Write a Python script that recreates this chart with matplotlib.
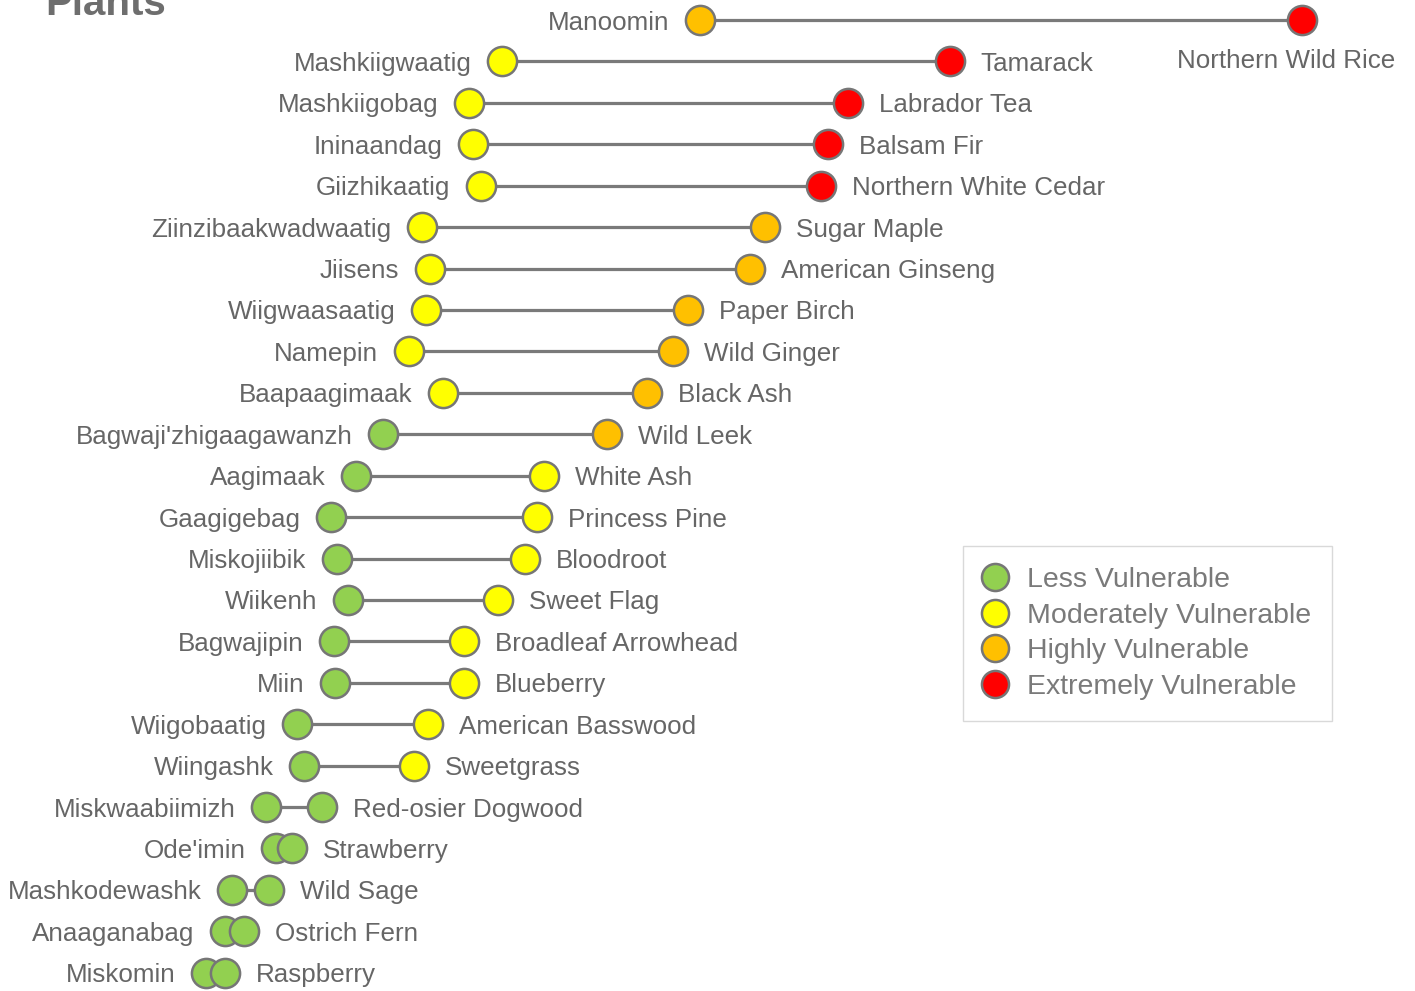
import numpy as np
import matplotlib.pyplot as plt
from matplotlib.lines import Line2D

plt.rcParams['font.family'] = ['Liberation Sans', 'DejaVu Sans']

# plant names, top row first
ojibwe = ["Manoomin", "Mashkiigwaatig", "Mashkiigobag", "Ininaandag", "Giizhikaatig",
          "Ziinzibaakwadwaatig", "Jiisens", "Wiigwaasaatig", "Namepin", "Baapaagimaak",
          "Bagwaji'zhigaagawanzh", "Aagimaak", "Gaagigebag", "Miskojiibik", "Wiikenh",
          "Bagwajipin", "Miin", "Wiigobaatig", "Wiingashk", "Miskwaabiimizh",
          "Ode'imin", "Mashkodewashk", "Anaaganabag", "Miskomin"]
english = ["Northern Wild Rice", "Tamarack", "Labrador Tea", "Balsam Fir", "Northern White Cedar",
           "Sugar Maple", "American Ginseng", "Paper Birch", "Wild Ginger", "Black Ash",
           "Wild Leek", "White Ash", "Princess Pine", "Bloodroot", "Sweet Flag",
           "Broadleaf Arrowhead", "Blueberry", "American Basswood", "Sweetgrass", "Red-osier Dogwood",
           "Strawberry", "Wild Sage", "Ostrich Fern", "Raspberry"]

# scores for the two ends of each dumbbell
left_score = [70.0, 50.2, 46.9, 47.3, 48.1, 42.2, 43.0, 42.6, 40.9, 44.3,
              38.3, 35.6, 33.1, 33.7, 34.8, 33.4, 33.5, 29.7, 30.4, 26.6,
              27.6, 23.2, 22.5, 20.6]
right_score = [130.2, 95.0, 84.8, 82.8, 82.1, 76.5, 75.0, 68.8, 67.3, 64.7,
               60.7, 54.4, 53.7, 52.5, 49.8, 46.4, 46.4, 42.8, 41.4, 32.2,
               29.2, 26.9, 24.4, 22.5]

# vulnerability level of each end (0 = less ... 3 = extremely)
left_level = [2, 1, 1, 1, 1, 1, 1, 1, 1, 1, 0, 0, 0, 0, 0, 0, 0, 0, 0, 0, 0, 0, 0, 0]
right_level = [3, 3, 3, 3, 3, 2, 2, 2, 2, 2, 2, 1, 1, 1, 1, 1, 1, 1, 1, 0, 0, 0, 0, 0]

levels = ["Less Vulnerable", "Moderately Vulnerable", "Highly Vulnerable", "Extremely Vulnerable"]
level_colors = ["#92D050", "#FFFF00", "#FFC000", "#FF0000"]

edge = "#767676"
txt = "#666666"

fig = plt.figure(figsize=(14.15, 9.91), dpi=100)
ax = fig.add_axes([0, 0, 1, 1])
ax.set_xlim(0, 141.5)
ax.set_ylim(23.44, -0.483)
ax.axis('off')

rows = np.arange(len(ojibwe))
for i in rows:
    l, r = left_score[i], right_score[i]
    ax.plot([l, r], [i, i], color="#7a7a7a", lw=2.3, zorder=1)
    ax.plot(l, i, 'o', ms=21, mfc=level_colors[left_level[i]], mec=edge, mew=1.8, zorder=2)
    ax.plot(r, i, 'o', ms=21, mfc=level_colors[right_level[i]], mec=edge, mew=1.8, zorder=3)
    ax.annotate(ojibwe[i], (l, i), xytext=(-22, 0), textcoords='offset points',
                ha='right', va='center_baseline', fontsize=18.7, color=txt)
    if english[i] == "Northern Wild Rice":
        ax.annotate(english[i], (r, i), xytext=(-11.5, -27.5), textcoords='offset points',
                    ha='center', va='center_baseline', fontsize=18.7, color=txt)
    else:
        ax.annotate(english[i], (r, i), xytext=(22, 0), textcoords='offset points',
                    ha='left', va='center_baseline', fontsize=18.7, color=txt)

fig.text(45 / 1415, 1 - 15 / 991, "Plants", fontsize=29, fontweight='bold',
         color="#6e6e6e", ha='left', va='baseline')

handles = [Line2D([], [], ls='none', marker='o', ms=19.5, mfc=c, mec=edge, mew=1.8)
           for c in level_colors]
leg = fig.legend(handles, levels, loc='upper left',
                 bbox_to_anchor=(963 / 1415, 1 - 546 / 991),
                 fontsize=20.5, frameon=True, fancybox=False, borderpad=0.75,
                 handlelength=0.74, handletextpad=0.75, labelspacing=0.33,
                 borderaxespad=0)
leg.get_frame().set_edgecolor("#d0d0d0")
leg.get_frame().set_linewidth(1.0)
for t in leg.get_texts():
    t.set_color("#7a7a7a")

fig.savefig("out.png", dpi=100)
